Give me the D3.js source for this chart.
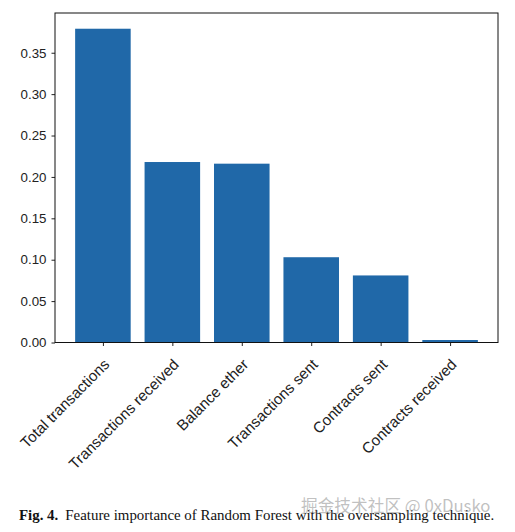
<!DOCTYPE html>
<html>
<head>
<meta charset="utf-8">
<script src="https://cdn.jsdelivr.net/npm/d3@7"></script>
<style>
  body { margin: 0; background: #fff; }
  svg { display: block; }
</style>
</head>
<body>
<svg width="515" height="532"></svg>
<script>
// feature importances
var features = ["Total transactions", "Transactions received", "Balance ether",
                "Transactions sent", "Contracts sent", "Contracts received"];
var importance = [0.379, 0.218, 0.216, 0.103, 0.081, 0.003];
var yTicks = [0.00, 0.05, 0.10, 0.15, 0.20, 0.25, 0.30, 0.35];

var svg = d3.select("svg"),
    width = +svg.attr("width"),
    height = +svg.attr("height");

var m = { left: 55, right: 498, top: 13, bottom: 342.5 };

svg.append("rect").attr("width", width).attr("height", height).attr("fill", "#fff");

// matplotlib style: bars 0.8 wide, 5% margins
var x = d3.scaleLinear().domain([-0.69, features.length - 1 + 0.69]).range([m.left, m.right]);
var y = d3.scaleLinear().domain([0, 0.398]).range([m.bottom, m.top]);

var barW = x(0.8) - x(0);

svg.append("g")
  .selectAll("rect")
  .data(importance)
  .enter().append("rect")
    .attr("x", (d, i) => x(i) - barW / 2)
    .attr("y", d => y(d))
    .attr("width", barW)
    .attr("height", d => y(0) - y(d))
    .attr("fill", "#2068a8");

var font = "'Liberation Sans', Arial, sans-serif";

var yAxis = svg.append("g")
    .attr("transform", "translate(" + m.left + ",0)")
    .call(d3.axisLeft(y).tickValues(yTicks).tickFormat(d3.format(".2f")).tickSizeOuter(0).tickSize(3.5).tickPadding(5));
yAxis.select(".domain").remove();
yAxis.selectAll("text").style("font-family", font).style("font-size", "13.3px").attr("fill", "#222");
yAxis.selectAll("line").attr("stroke", "#222");

var xAxis = svg.append("g")
    .attr("transform", "translate(0," + m.bottom + ")")
    .call(d3.axisBottom(x).tickValues(d3.range(features.length)).tickFormat(i => features[i]).tickSizeOuter(0).tickSize(3.5));
xAxis.select(".domain").remove();
xAxis.selectAll("line").attr("stroke", "#222");
xAxis.selectAll("text")
    .style("font-family", font).style("font-size", "15.2px").attr("fill", "#222")
    .attr("text-anchor", "end")
    .attr("dy", null)
    .attr("y", 0)
    .attr("transform", "translate(7,23) rotate(-45)");

// frame
svg.append("rect")
    .attr("x", m.left).attr("y", m.top)
    .attr("width", m.right - m.left).attr("height", m.bottom - m.top)
    .attr("fill", "none").attr("stroke", "#111").attr("stroke-width", 1);

// caption
var cap = svg.append("text")
    .attr("x", 19).attr("y", 520)
    .style("font-family", "'Liberation Serif', serif").style("font-size", "14.9px")
    .attr("fill", "#111");
cap.append("tspan").attr("font-weight", "bold").text("Fig. 4.");
cap.append("tspan").attr("dx", 7).text("Feature importance of Random Forest with the oversampling technique.");

// watermark
svg.append("text")
    .attr("x", 301).attr("y", 512)
    .style("font-family", "'Noto Sans CJK SC', sans-serif").style("font-size", "16.7px")
    .attr("fill", "rgba(140,140,140,0.55)")
    .text("掘金技术社区 @ 0xDusko");
</script>
</body>
</html>
